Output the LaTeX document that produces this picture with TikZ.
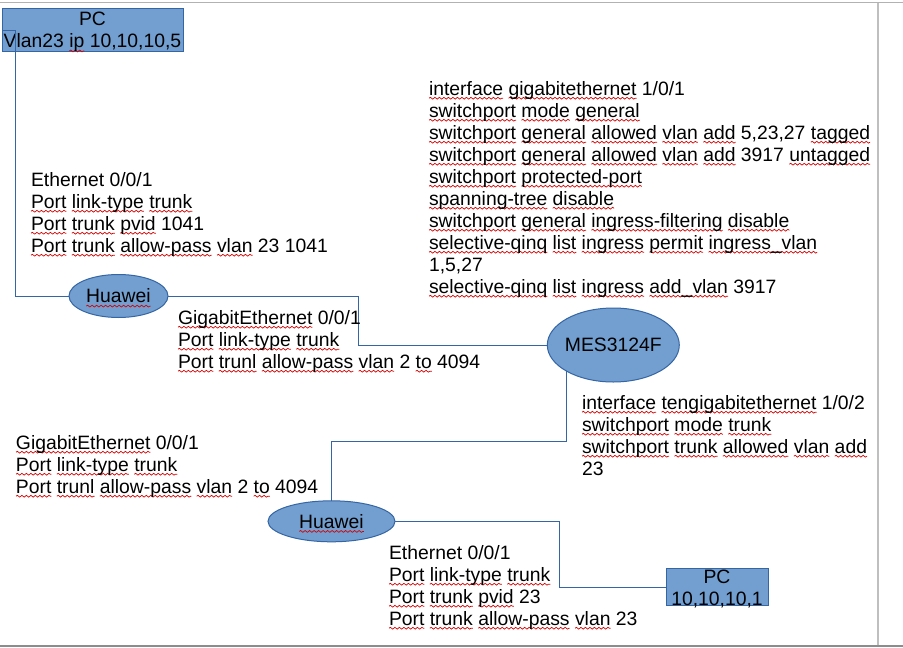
\documentclass[tikz,border=0pt]{standalone}
\usepackage{fontspec}
\setmainfont{Liberation Sans}
\usetikzlibrary{shapes.geometric,decorations.pathmorphing}
\newlength{\sqw}
\newcommand{\sq}[1]{\settowidth{\sqw}{#1}\rlap{\tikz[overlay,baseline=0pt]{\draw[red!85!black,line width=.7pt,decorate,decoration={snake,amplitude=.9pt,segment length=4.5pt}] (0pt,-3.2pt) -- (\sqw,-3.2pt);}}#1}
\newcommand{\dn}[1]{\raisebox{-2pt}[\height][\depth]{#1}}
\tikzset{
  txt/.style={anchor=north west,inner sep=0pt,outer sep=0pt,align=left,font=\fontsize{19.35}{22}\selectfont,text=black},
  boxn/.style={draw=blue1,fill=fill1,line width=1pt,rectangle,inner sep=0pt,outer sep=0pt,align=center,font=\fontsize{19.35}{22}\selectfont},
  ell/.style={draw=blue1,fill=fill1,line width=1pt,ellipse,inner sep=0pt,outer sep=0pt,font=\fontsize{19.35}{22}\selectfont},
  conn/.style={draw=blue1,line width=1pt},
  frameline/.style={line width=1.5pt}
}
\definecolor{blue1}{HTML}{3465A4}
\definecolor{fill1}{HTML}{729FCF}
\begin{document}
\begin{tikzpicture}[x=1pt,y=-1pt]
\useasboundingbox (0,0) rectangle (903,648);
\fill[white] (0,0) rectangle (903,648);
\draw[frameline,draw=black!25] (878,3) -- (878,645);
\draw[frameline,draw=black!30] (0,2.5) -- (903,2.5);
\draw[frameline,line width=2pt,draw=black!45] (0,646) -- (903,646);
% nodes
\node[boxn,minimum width=181pt,minimum height=43.5pt] (pca) at (92.5,30) {\dn{PC}\\\dn{Vlan23 \sq{ip} 10,10,10,5}};
\node[boxn,minimum width=102pt,minimum height=37.5pt] (pcb) at (717,587) {\dn{PC}\\\dn{10,10,10,1}};
\node[ell,minimum width=99pt,minimum height=43pt] (hua) at (118.5,296) {\sq{Huawei}};
\node[ell,minimum width=127pt,minimum height=41pt] (hub) at (331.5,521.3) {\sq{Huawei}};
\node[ell,minimum width=132pt,minimum height=74pt] (mes) at (613.3,345) {\makebox[0pt]{MES3124F}};
% connectors
\coordinate (a1) at (15,30);
\coordinate (a2) at (15,296);
\coordinate (b1) at (358,296);
\coordinate (b2) at (358,345);
\coordinate (c1) at (mes.south west |- 0,441.7);
\coordinate (c2) at (hub.north |- 0,441.7);
\coordinate (d1) at (559.5,521.3);
\coordinate (d2) at (559.5,587);
\draw[conn] (pca.west |- a1) -- (a1) -- (a2) -- (hua.west |- a2);
\draw[conn] (hua.east) -- (b1) -- (b2) -- (mes.west);
\draw[conn] (mes.south west) -- (c1) -- (c2) -- (hub.north);
\draw[conn] (hub.east) -- (d1) -- (d2) -- (pcb.west);
% texts
\node[txt] (t1) at (31,172) {Ethernet 0/0/1\\\sq{Port} \sq{link-type} \sq{trunk}\\\sq{Port} \sq{trunk} \sq{pvid} 1041\\\sq{Port} \sq{trunk} \sq{allow-pass} \sq{vlan} 23 1041};
\node[txt] (t2) at (178,310) {\sq{GigabitEthernet} 0/0/1\\\sq{Port} \sq{link-type} \sq{trunk}\\\sq{Port} \sq{trunl} \sq{allow-pass} \sq{vlan} 2 \sq{to} 4094};
\node[txt] (t3) at (429,81) {\sq{interface} \sq{gigabitethernet} 1/0/1\\\sq{switchport} \sq{mode} \sq{general}\\\sq{switchport} \sq{general} \sq{allowed} \sq{vlan} \sq{add} 5,23,27 \sq{tagged}\\\sq{switchport} \sq{general} \sq{allowed} \sq{vlan} \sq{add} 3917 \sq{untagged}\\\sq{switchport} \sq{protected-port}\\\sq{spanning-tree} \sq{disable}\\\sq{switchport} \sq{general} \sq{ingress-filtering} \sq{disable}\\\sq{selective-qinq} \sq{list} \sq{ingress} \sq{permit} \sq{ingress\_vlan}\\1,5,27\\\sq{selective-qinq} \sq{list} \sq{ingress} \sq{add\_vlan} 3917};
\node[txt] (t4) at (582,395) {\sq{interface} \sq{tengigabitethernet} 1/0/2\\\sq{switchport} \sq{mode} \sq{trunk}\\\sq{switchport} \sq{trunk} \sq{allowed} \sq{vlan} \sq{add}\\23};
\node[txt] (t5) at (16,435) {\sq{GigabitEthernet} 0/0/1\\\sq{Port} \sq{link-type} \sq{trunk}\\\sq{Port} \sq{trunl} \sq{allow-pass} \sq{vlan} 2 \sq{to} 4094};
\node[txt] (t6) at (389,545) {Ethernet 0/0/1\\\sq{Port} \sq{link-type} \sq{trunk}\\\sq{Port} \sq{trunk} \sq{pvid} 23\\\sq{Port} \sq{trunk} \sq{allow-pass} \sq{vlan} 23};
\end{tikzpicture}
\end{document}
